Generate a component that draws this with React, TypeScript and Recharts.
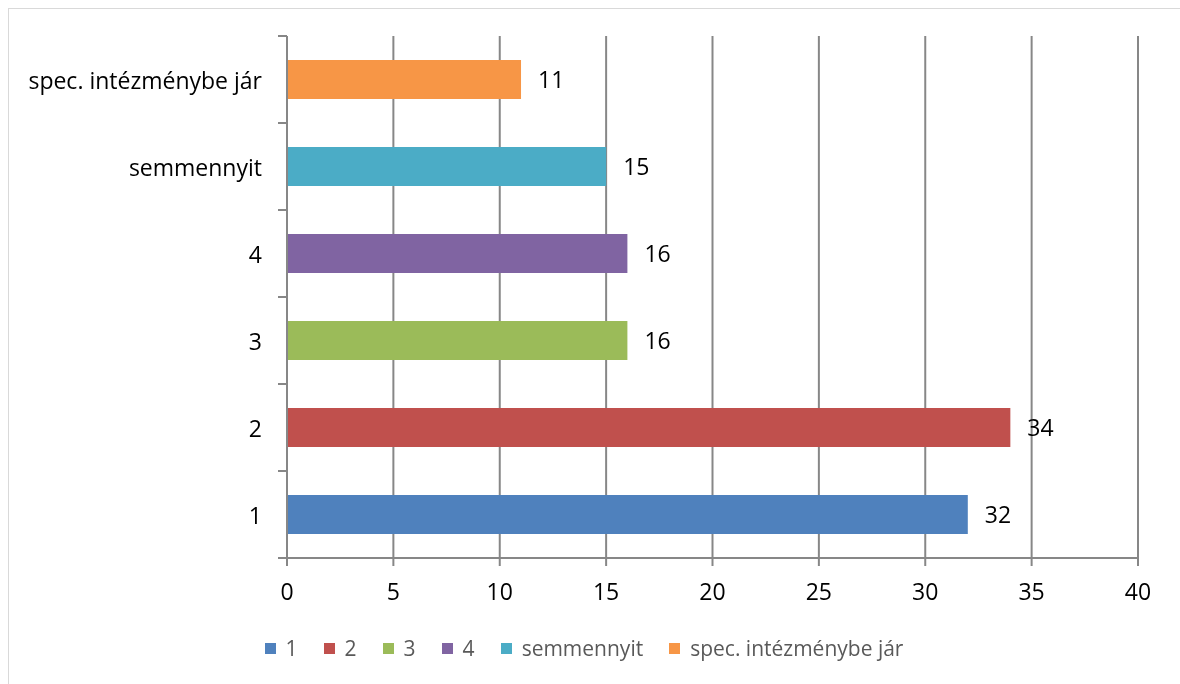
import { Bar, BarChart, CartesianGrid, Cell, LabelList, XAxis, YAxis } from "recharts";

const categories = ["1", "2", "3", "4", "semmennyit", "spec. intézménybe jár"];
const counts = [32, 34, 16, 16, 15, 11];
const colors = ["#4F81BD", "#C0504D", "#9BBB59", "#8064A2", "#4BACC6", "#F79646"];
const xTicks = [0, 5, 10, 15, 20, 25, 30, 35, 40];

const data = categories.map((name, i) => ({ name, value: counts[i], color: colors[i] }));

const WIDTH = 1163;
const HEIGHT = 667;
const MARGIN = { top: 27, right: 34, bottom: 78, left: 0 };
const X_AXIS_H = 40;
const Y_AXIS_W = 278;
const AXIS = "#878787";
const FONT = "'Open Sans', sans-serif";
const FS = 23;

const BAND = (HEIGHT - MARGIN.top - MARGIN.bottom - X_AXIS_H) / categories.length;

// category ticks sit on the band boundaries, label in the middle
function CategoryTick(props: any) {
  const { x, y, payload, index } = props;
  return (
    <g>
      <line x1={x - 9} x2={x} y1={y - BAND / 2} y2={y - BAND / 2} stroke={AXIS} strokeWidth={2} />
      {index === 0 && (
        <line x1={x - 9} x2={x} y1={y + BAND / 2} y2={y + BAND / 2} stroke={AXIS} strokeWidth={2} />
      )}
      <text x={x - 25} y={y} textAnchor="end" dominantBaseline="central" fill="#000" fontSize={FS}>
        {payload.value}
      </text>
    </g>
  );
}

function Legend() {
  return (
    <div
      style={{
        position: "absolute",
        left: 0,
        top: 627,
        width: 1150,
        height: 24,
        display: "flex",
        justifyContent: "center",
        alignItems: "center",
        gap: 26,
        color: "#595959",
        fontSize: 21,
      }}
    >
      {categories.map((c, i) => (
        <div key={c} style={{ display: "flex", alignItems: "center", gap: 10 }}>
          <span style={{ width: 11, height: 11, background: colors[i], display: "inline-block" }} />
          <span>{c}</span>
        </div>
      ))}
    </div>
  );
}

export default function App() {
  return (
    <div style={{ position: "relative", width: WIDTH + 1, height: HEIGHT + 1, fontFamily: FONT }}>
      {/* chart frame runs past the window edge; fixed so it adds no scrollbars */}
      <div
        style={{
          position: "fixed",
          left: 8,
          top: 8,
          width: 1200,
          height: 700,
          borderTop: "1px solid #d9d9d9",
          borderLeft: "1px solid #d9d9d9",
          pointerEvents: "none",
        }}
      />
      <div style={{ position: "absolute", left: 1, top: 1 }}>
        <BarChart width={WIDTH} height={HEIGHT} data={data} layout="vertical" margin={MARGIN}>
          <CartesianGrid horizontal={false} stroke={AXIS} strokeWidth={2} />
          <XAxis
            type="number"
            domain={[0, 40]}
            ticks={xTicks}
            height={X_AXIS_H}
            axisLine={{ stroke: AXIS, strokeWidth: 2 }}
            tickLine={{ stroke: AXIS, strokeWidth: 2 }}
            tickSize={8}
            tickMargin={18}
            tick={{ fill: "#000", fontSize: FS }}
          />
          <YAxis
            type="category"
            dataKey="name"
            reversed
            width={Y_AXIS_W}
            axisLine={{ stroke: AXIS, strokeWidth: 2 }}
            tickLine={false}
            tickSize={0}
            tickMargin={0}
            interval={0}
            tick={<CategoryTick />}
          />
          <Bar dataKey="value" barSize={39} isAnimationActive={false}>
            {data.map((d) => (
              <Cell key={d.name} fill={d.color} />
            ))}
            <LabelList dataKey="value" position="right" offset={17} fill="#000" fontSize={FS} />
          </Bar>
        </BarChart>
        <Legend />
      </div>
    </div>
  );
}
